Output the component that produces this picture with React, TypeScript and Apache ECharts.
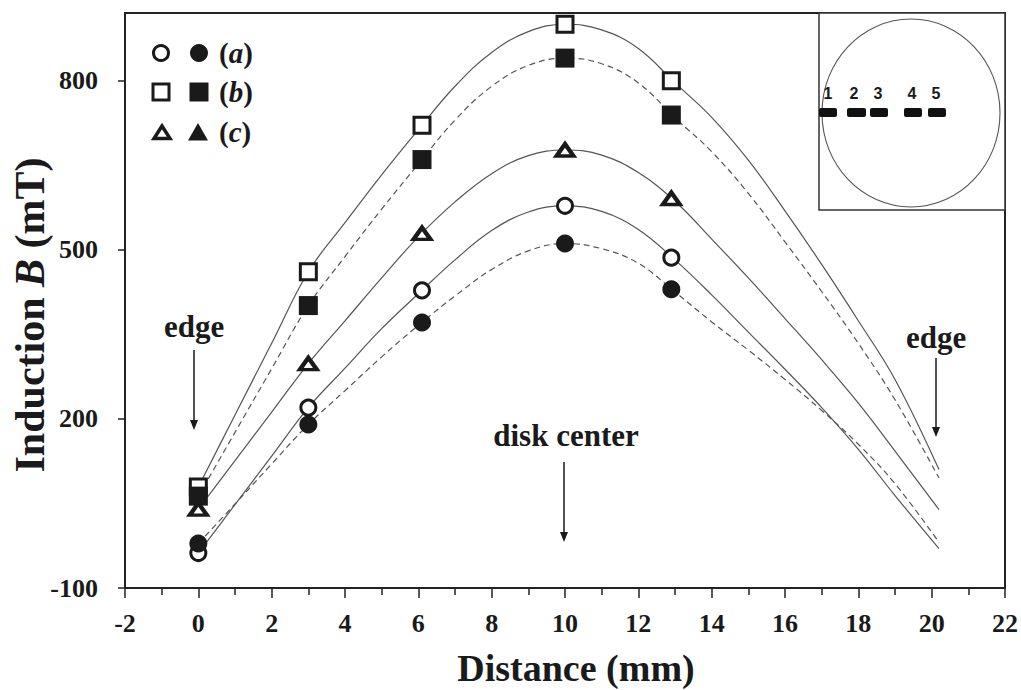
import React, { useEffect, useRef } from "react";
import * as echarts from "echarts";

// ---- data ----
const markerX = [0, 3, 6.1, 10, 12.9];
const aOpen = [-38, 220, 428, 578, 486];
const aFilled = [-21, 190, 371, 511, 430];
const bOpen = [79, 461, 721, 900, 800];
const bFilled = [63, 401, 660, 840, 739];
const cOpen = [40, 298, 529, 677, 591];

const curveX = [0, 1, 2, 3, 4, 5, 6, 7, 8, 9, 10, 11, 12, 13, 14, 15, 16, 17, 18, 19, 20.2];
const bOpenCurve = [79, 207, 334, 461, 548, 633, 713, 790, 850, 887, 900, 890, 857, 796, 735, 659, 569, 474, 374, 270, 110];
const bFilledCurve = [63, 176, 289, 401, 488, 572, 652, 730, 790, 827, 840, 830, 796, 734, 674, 600, 514, 426, 334, 234, 95];
const cOpenCurve = [40, 126, 212, 298, 374, 450, 523, 585, 635, 667, 677, 668, 637, 586, 519, 450, 378, 305, 228, 143, 39];
const aOpenCurve = [-38, 48, 134, 220, 290, 360, 422, 482, 534, 567, 578, 568, 536, 482, 420, 354, 288, 220, 146, 64, -30];
const aFilledCurve = [-21, 49, 120, 190, 250, 310, 366, 418, 465, 498, 511, 502, 476, 425, 372, 322, 270, 215, 155, 85, -19];

const yTickValues = [-100, 200, 500, 800];
const legendLabels = ["a", "b", "c"];
const insetLabels = ["1", "2", "3", "4", "5"];

const SERIF = "'Liberation Serif', 'Times New Roman', serif";
const SANS = "'Liberation Sans', Arial, sans-serif";
const INK = "#1a1a1a";
const LINE = "#555";

function pts(xs: number[], ys: number[]) {
  return xs.map((x, i) => [x, ys[i]]);
}

function curve(ys: number[], dashed: boolean) {
  return {
    type: "line",
    data: pts(curveX, ys),
    smooth: 0.4,
    showSymbol: false,
    symbol: "none",
    lineStyle: { color: LINE, width: 1.2, type: dashed ? [6, 4] : "solid" },
    z: 2,
    silent: true,
  };
}

function scatter(ys: number[], symbol: string, open: boolean, size: any, bw = 3) {
  return {
    type: "scatter",
    data: pts(markerX, ys),
    symbol,
    symbolSize: size,
    itemStyle: open
      ? { color: "#fff", borderColor: INK, borderWidth: bw, opacity: 1 }
      : { color: INK, borderWidth: 0, opacity: 1 },
    z: 5,
  };
}

function arrow(x: number, y1: number, y2: number) {
  return [
    { type: "line", shape: { x1: x, y1, x2: x, y2: y2 - 8 }, style: { stroke: INK, lineWidth: 1.5 } },
    {
      type: "polygon",
      shape: { points: [[x - 4, y2 - 10], [x + 4, y2 - 10], [x, y2]] },
      style: { fill: INK },
    },
  ];
}

export default function App() {
  const ref = useRef<HTMLDivElement>(null);
  useEffect(() => {
    if (!ref.current) return;
    const chart = echarts.init(ref.current, undefined, { renderer: "svg" });

    const legendRows = [53, 92, 132];
    const legendGraphics: any[] = [];
    legendGraphics.push({ type: "circle", shape: { cx: 161, cy: legendRows[0], r: 7.5 }, style: { fill: "#fff", stroke: INK, lineWidth: 3 } });
    legendGraphics.push({ type: "circle", shape: { cx: 199, cy: legendRows[0], r: 9 }, style: { fill: INK } });
    legendGraphics.push({ type: "rect", shape: { x: 153, y: legendRows[1] - 8, width: 16, height: 16 }, style: { fill: "#fff", stroke: INK, lineWidth: 3 } });
    legendGraphics.push({ type: "rect", shape: { x: 189.5, y: legendRows[1] - 9.5, width: 19, height: 19 }, style: { fill: INK } });
    legendGraphics.push({ type: "polygon", shape: { points: [[162, legendRows[2] - 6], [154, legendRows[2] + 6.5], [170, legendRows[2] + 6.5]] }, style: { fill: "#fff", stroke: INK, lineWidth: 3.5, lineJoin: "miter" } });
    legendGraphics.push({ type: "polygon", shape: { points: [[198, legendRows[2] - 9], [188, legendRows[2] + 8.5], [208, legendRows[2] + 8.5]] }, style: { fill: INK } });
    legendLabels.forEach((l, i) => {
      legendGraphics.push({
        type: "text",
        x: 219,
        y: legendRows[i],
        style: {
          text: `{p|(}{i|${l}}{p|)}`,
          verticalAlign: "middle",
          align: "left",
          rich: {
            p: { fontFamily: SERIF, fontSize: 29, fontWeight: "bold", fill: INK },
            i: { fontFamily: SERIF, fontSize: 29, fontWeight: "bold", fontStyle: "italic", fill: INK },
          },
        },
      });
    });

    const insetGraphics: any[] = [
      { type: "rect", shape: { x: 819, y: 13, width: 186, height: 197 }, style: { fill: "#fff", stroke: "#333", lineWidth: 1.5 }, z: 10 },
      { type: "ellipse", shape: { cx: 911, cy: 113, rx: 89, ry: 94 }, style: { fill: "none", stroke: "#555", lineWidth: 1.1 }, z: 11 },
    ];
    const bars = [[819, 837], [847, 866], [870, 888], [904, 922], [928, 946]];
    const labX = [828, 854, 878, 912, 936];
    bars.forEach((b, i) => {
      insetGraphics.push({ type: "rect", shape: { x: b[0], y: 108, width: b[1] - b[0], height: 9, r: 2 }, style: { fill: "#111" }, z: 12 });
      insetGraphics.push({
        type: "text",
        x: labX[i],
        y: 93,
        z: 12,
        style: { text: insetLabels[i], align: "center", verticalAlign: "middle", fontFamily: SANS, fontWeight: "bold", fontSize: 16, fill: INK },
      });
    });

    const annot: any[] = [
      { type: "text", x: 194, y: 326, style: { text: "edge", align: "center", verticalAlign: "middle", fontFamily: SERIF, fontWeight: "bold", fontSize: 31, fill: INK } },
      ...arrow(194, 350, 430),
      { type: "text", x: 566, y: 435, style: { text: "disk center", align: "center", verticalAlign: "middle", fontFamily: SERIF, fontWeight: "bold", fontSize: 31, fill: INK } },
      ...arrow(564, 462, 542),
      { type: "text", x: 936, y: 337, style: { text: "edge", align: "center", verticalAlign: "middle", fontFamily: SERIF, fontWeight: "bold", fontSize: 31, fill: INK } },
      ...arrow(936, 358, 437),
      { type: "text", x: 576, y: 668, style: { text: "Distance (mm)", align: "center", verticalAlign: "middle", fontFamily: SERIF, fontWeight: "bold", fontSize: 38, fill: INK } },
      {
        type: "text",
        x: 30,
        y: 315,
        rotation: Math.PI / 2,
        style: {
          text: "Induction {i|B} (mT)",
          align: "center",
          verticalAlign: "middle",
          fontFamily: SERIF,
          fontWeight: "bold",
          fontSize: 42,
          fill: INK,
          rich: { i: { fontFamily: SERIF, fontWeight: "bold", fontStyle: "italic", fontSize: 42, fill: INK } },
        },
      },
    ];

    chart.setOption({
      animation: false,
      backgroundColor: "#fff",
      grid: { left: 125, right: 16, top: 13, bottom: 102, show: true, borderColor: "#222", borderWidth: 2, backgroundColor: "transparent" },
      xAxis: {
        type: "value",
        min: -2,
        max: 22,
        interval: 2,
        axisLine: { onZero: false, lineStyle: { color: "#222", width: 2 } },
        axisTick: { show: true, inside: false, length: 10, lineStyle: { color: "#222", width: 1.5 } },
        minorTick: { show: true, splitNumber: 2, length: 7, lineStyle: { color: "#222", width: 1.5 } },
        splitLine: { show: false },
        minorSplitLine: { show: false },
        axisLabel: { fontFamily: SERIF, fontWeight: "bold", fontSize: 26, color: INK, margin: 22, showMinLabel: true, showMaxLabel: true },
      },
      yAxis: {
        type: "value",
        min: -100,
        max: 920,
        interval: 100,
        axisLine: { show: true, onZero: false, lineStyle: { color: "#222", width: 2 } },
        axisTick: { show: true, inside: false, length: 7, customValues: yTickValues, lineStyle: { color: "#222", width: 1.5 } },
        splitLine: { show: false },
        axisLabel: { fontFamily: SERIF, fontWeight: "bold", fontSize: 26, color: INK, margin: 27, customValues: yTickValues },
      },
      graphic: [...insetGraphics, ...legendGraphics, ...annot],
      series: [
        curve(bOpenCurve, false),
        curve(bFilledCurve, true),
        curve(cOpenCurve, false),
        curve(aOpenCurve, false),
        curve(aFilledCurve, true),
        scatter(bOpen, "rect", true, 16),
        scatter(bFilled, "rect", false, 19),
        scatter(cOpen, "triangle", true, [17, 12], 4),
        scatter(aOpen, "circle", true, 15),
        scatter(aFilled, "circle", false, 18),
      ],
    });
    return () => chart.dispose();
  }, []);
  return <div ref={ref} style={{ position: "absolute", left: 0, top: 0, width: 1021, height: 690 }} />;
}
